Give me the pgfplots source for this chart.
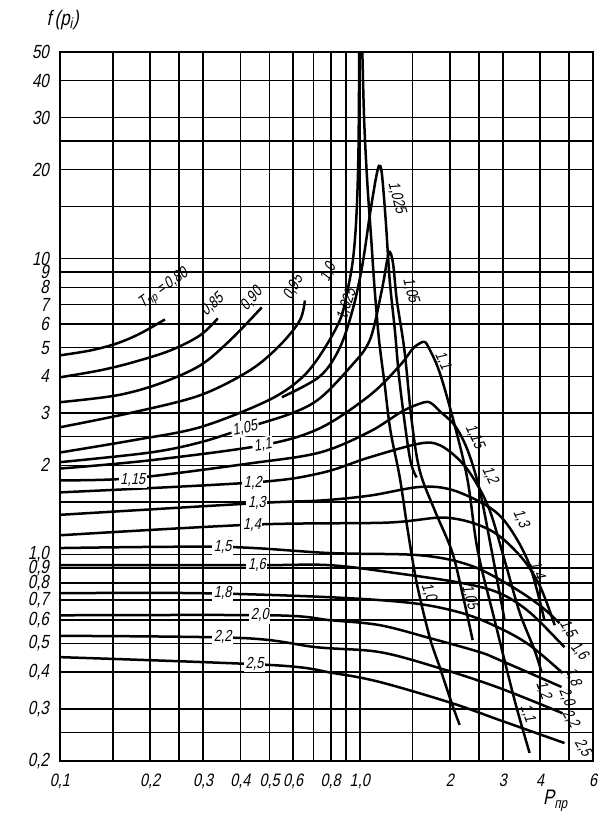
\documentclass[border=0pt]{standalone}
\usepackage{fontspec}
\setmainfont{Liberation Sans}
\newfontfamily\gfont{Liberation Sans}[FakeStretch=0.8,FakeSlant=0.2]
\usepackage{pgfplots}
\pgfplotsset{compat=1.18}
\begin{document}
\begin{tikzpicture}[
  curve/.style={black, line width=1.25pt, smooth, tension=0.55},
  lbl/.style={font=\fontsize{8}{9}\selectfont\gfont, inner sep=0.3pt},
  ilbl/.style={lbl, fill=white, inner sep=0.8pt}]
\begin{axis}[
  at={(0,0)}, anchor=south west,
  scale only axis, width=266.5pt, height=354.5pt,
  xmode=log, ymode=log,
  xmin=0.1, xmax=6, ymin=0.2, ymax=50,
  xtick={0.1,0.15,0.2,0.25,0.3,0.4,0.5,0.6,0.7,0.8,0.9,1,1.5,2,2.5,3,4,5,6},
  xticklabels={{0,1},{},{0,2},{},{0,3},{0,4},{0,5},{0,6},{},{0,8},{},{1,0},{},2,{},3,4,{},6},
  ytick={0.2,0.25,0.3,0.4,0.5,0.6,0.7,0.8,0.9,1,1.5,2,2.5,3,4,5,6,7,8,9,10,15,20,25,30,40,50},
  yticklabels={{0,2},{},{0,3},{0,4},{0,5},{0,6},{0,7},{0,8},{0,9},{1,0},{},2,{},3,4,5,6,7,8,9,10,{},20,{},30,40,50},
  minor xtick={}, minor ytick={},
  grid=major, major grid style={black, line width=0.8pt},
  major tick length=0pt,
  axis line style={line width=1pt},
  yticklabel style={font=\fontsize{9.5}{10}\selectfont\gfont, xshift=-2pt},
  xticklabel style={font=\fontsize{9}{10}\selectfont\gfont, yshift=-3pt, inner xsep=0.5pt},
  clip=false,
]
% T = 0.80 ... 0.95
\addplot[curve] coordinates {(0.1,4.71)(0.126,4.89)(0.155,5.17)(0.185,5.58)(0.224,6.23)};
\addplot[curve] coordinates {(0.1,3.97)(0.136,4.19)(0.175,4.46)(0.233,4.89)(0.293,5.50)(0.336,6.28)};
\addplot[curve] coordinates {(0.1,3.27)(0.155,3.45)(0.215,3.78)(0.293,4.35)(0.369,5.29)(0.471,6.84)};
\addplot[curve] coordinates {(0.1,2.69)(0.175,3.02)(0.293,3.45)(0.43,4.19)(0.541,5.09)(0.631,6.18)(0.656,7.22)};
% T = 1.0
\addplot[curve] coordinates {(0.1,2.21)(0.175,2.43)(0.293,2.69)(0.49,3.3)(0.631,3.9)(0.736,4.7)(0.858,6.18)(0.91,7.8)(0.95,10)(0.975,14)(0.99,23)(0.996,50)};
\addplot[curve] coordinates {(1.02,50)(1.035,29)(1.06,18)(1.09,12)(1.12,8)(1.16,5.3)(1.21,3.78)(1.265,2.63)(1.36,1.82)(1.445,1.21)(1.549,0.80)(1.711,0.525)(1.848,0.416)(2.026,0.314)(2.154,0.265)};
% T = 1.025
\addplot[curve] coordinates {(0.55,3.4)(0.736,4.0)(0.858,5.0)(0.95,6.8)(1.02,9.5)(1.08,14.0)(1.13,18.5)(1.16,20.6)(1.185,19.4)(1.221,13.45)(1.259,8.43)(1.31,5.72)(1.36,3.78)(1.468,2.13)(1.549,1.82)};
% T = 1.05
\addplot[curve] coordinates {(0.1,2.05)(0.2,2.21)(0.293,2.39)(0.414,2.67)(0.593,3.0)(0.736,3.37)(0.93,4.3)(1.08,5.3)(1.184,7.8)(1.249,10.4)(1.29,9.7)(1.33,7.22)(1.41,4.89)(1.49,2.84)(1.585,1.92)(1.778,1.41)(2.026,1.03)(2.188,0.756)(2.38,0.513)};
% T = 1.1
\addplot[curve] coordinates {(0.1,1.95)(0.2,2.08)(0.475,2.34)(0.736,2.67)(1.08,3.45)(1.36,4.35)(1.5,4.95)(1.585,5.17)(1.64,5.23)(1.69,5.05)(1.848,4.12)(2.074,2.73)(2.29,1.78)(2.474,1.03)(2.818,0.599)(3.286,0.321)(3.687,0.213)};
% T = 1.15
\addplot[curve] coordinates {(0.1,1.78)(0.175,1.81)(0.43,2.03)(0.736,2.21)(1.08,2.6)(1.39,3.05)(1.647,3.27)(1.75,3.22)(1.848,3.05)(2.074,2.73)(2.29,2.25)(2.512,1.65)(2.754,1.03)(3.043,0.599)};
% T = 1.2
\addplot[curve] coordinates {(0.1,1.62)(0.44,1.75)(0.736,1.88)(1.08,2.13)(1.585,2.37)(1.848,2.34)(2.154,2.08)(2.417,1.78)(2.713,1.41)(3.043,0.955)(3.414,0.637)(3.83,0.474)(4.04,0.40)};
% T = 1.3
\addplot[curve] coordinates {(0.1,1.36)(0.454,1.49)(0.736,1.52)(1.08,1.58)(1.585,1.69)(2.04,1.65)(2.713,1.44)(3.162,1.23)(3.687,0.919)(4.13,0.60)};
% T = 1.4
\addplot[curve] coordinates {(0.1,1.16)(0.437,1.26)(1.23,1.28)(1.95,1.33)(2.713,1.21)(3.414,0.993)(3.98,0.786)(4.47,0.576)};
% T = 1.5
\addplot[curve] coordinates {(0.1,1.05)(0.349,1.06)(0.794,1.01)(1.585,0.993)(2.326,0.919)(3.162,0.786)(3.98,0.673)(4.64,0.585)};
% T = 1.6
\addplot[curve] coordinates {(0.1,0.919)(0.454,0.919)(0.794,0.919)(1.33,0.863)(2.205,0.799)(2.929,0.739)(3.687,0.637)(4.82,0.485)};
% T = 1.8
\addplot[curve] coordinates {(0.1,0.739)(0.293,0.739)(0.794,0.716)(1.50,0.684)(2.205,0.632)(2.929,0.563)(3.687,0.493)(4.75,0.397)};
% T = 2.0
\addplot[curve] coordinates {(0.1,0.622)(0.513,0.622)(0.794,0.599)(1.166,0.576)(1.711,0.521)(2.512,0.467)(2.929,0.439)(4.71,0.356)};
% T = 2.2
\addplot[curve] coordinates {(0.1,0.53)(0.407,0.521)(0.719,0.485)(1.166,0.467)(1.848,0.412)(2.929,0.353)(4.75,0.29)};
% T = 2.5
\addplot[curve] coordinates {(0.1,0.449)(0.513,0.422)(0.813,0.397)(1.166,0.37)(2.026,0.314)(2.929,0.275)(4.82,0.23)};

% labels at the upper ends of the curves
\node[lbl, rotate=36] at (axis cs:0.222,7.9) {T\textsubscript{\upshape пр}\,=\,0,80};
\node[lbl, rotate=42] at (axis cs:0.322,7.0) {0,85};
\node[lbl, rotate=50] at (axis cs:0.435,7.3) {0,90};
\node[lbl, rotate=62] at (axis cs:0.60,8.0) {0,95};
\node[lbl, rotate=65] at (axis cs:0.785,9.0) {1,0};
\node[lbl, rotate=72] at (axis cs:0.905,7.0) {1,025};
\node[lbl, rotate=-75] at (axis cs:1.33,16.1) {1,025};
\node[lbl, rotate=-75] at (axis cs:1.48,7.8) {1,05};
\node[lbl, rotate=-65] at (axis cs:1.89,4.52) {1,1};
\node[lbl, rotate=-65] at (axis cs:2.42,2.5) {1,15};
\node[lbl, rotate=-65] at (axis cs:2.72,1.85) {1,2};
\node[lbl, rotate=-65] at (axis cs:3.45,1.32) {1,3};
\node[lbl, rotate=-70] at (axis cs:3.90,0.88) {1,4};
% labels on the falling branches
\node[lbl, rotate=-70] at (axis cs:1.70,0.745) {1,0};
\node[lbl, rotate=-75] at (axis cs:2.33,0.716) {1,05};
\node[lbl, rotate=-70] at (axis cs:3.63,0.29) {1,1};
\node[lbl, rotate=-70] at (axis cs:4.10,0.348) {1,2};
\node[lbl, rotate=-60] at (axis cs:4.95,0.56) {1,5};
\node[lbl, rotate=-50] at (axis cs:5.40,0.47) {1,6};
\node[lbl, rotate=-68] at (axis cs:5.15,0.385) {1,8};
\node[lbl, rotate=-68] at (axis cs:4.90,0.328) {2,0};
\node[lbl, rotate=-60] at (axis cs:5.05,0.277) {2,2};
\node[lbl, rotate=-60] at (axis cs:5.55,0.222) {2,5};
% labels set into the curves
\node[ilbl] at (axis cs:0.175,1.79) {1,15};
\node[ilbl, rotate=12] at (axis cs:0.414,2.67) {1,05};
\node[ilbl, rotate=10] at (axis cs:0.475,2.34) {1,1};
\node[ilbl] at (axis cs:0.44,1.75) {1,2};
\node[ilbl] at (axis cs:0.454,1.49) {1,3};
\node[ilbl] at (axis cs:0.437,1.26) {1,4};
\node[ilbl] at (axis cs:0.349,1.06) {1,5};
\node[ilbl] at (axis cs:0.454,0.919) {1,6};
\node[ilbl] at (axis cs:0.349,0.739) {1,8};
\node[ilbl] at (axis cs:0.464,0.622) {2,0};
\node[ilbl] at (axis cs:0.349,0.525) {2,2};
\node[ilbl] at (axis cs:0.446,0.425) {2,5};

% axis titles
\node[font=\fontsize{10.5}{12}\selectfont\gfont] at (rel axis cs:0.005,1.045) {f\,(p\textsubscript{i})};
\node[font=\fontsize{10.5}{12}\selectfont\gfont] at (rel axis cs:0.93,-0.056) {P\textsubscript{\upshape пр}};
\end{axis}
\pgfresetboundingbox
\path[use as bounding box] (-30pt,-32pt) rectangle (273pt,380.5pt);
\end{tikzpicture}
\end{document}
